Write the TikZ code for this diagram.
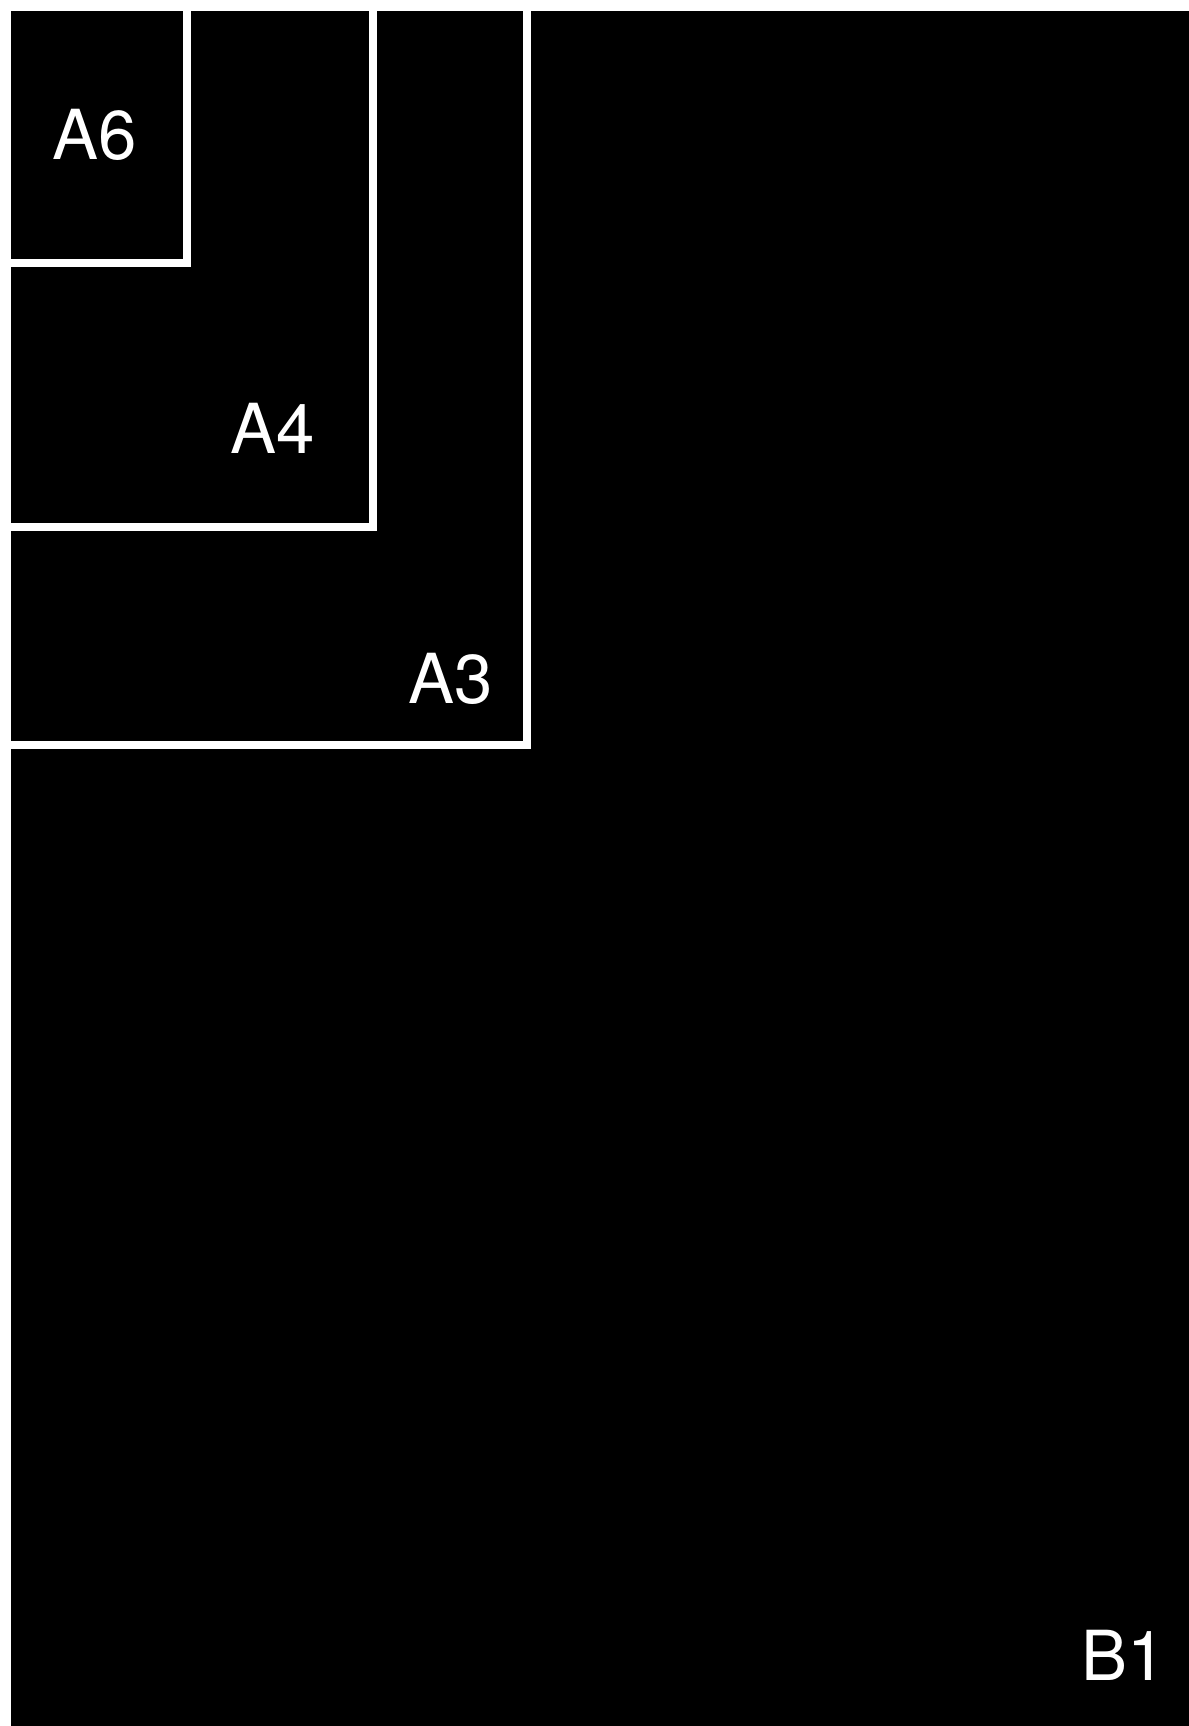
\documentclass[tikz,border=0pt]{standalone}
\usepackage{fontspec}
\setmainfont{TeX Gyre Heros}
\tikzset{
  sheet/.style={fill=black, draw=white, line width=4pt},
  size label/.style={text=white, font=\fontsize{34.5}{40}\selectfont, inner sep=0pt}
}

\begin{document}
\begin{tikzpicture}[x=0.5pt, y=-0.5pt]
\useasboundingbox[fill=white] (0,0) rectangle (1189,1726);

%%%%%%%%%%%%%%%%%%%%%%%%%%%%%%%%%%%%%%%%%%%%%%%%%%%%%%%%%%%%%% B1
\fill[black] (11,11) rectangle (1189,1726);

%%%%%%%%%%%%%%%%%%%%%%%%%%%%%%%%%%%%%%%%%%%%%%%%%%%%%%%%%%%%%% A3, A4, A6
\coordinate (O) at (7,7);
\draw[sheet] (O) rectangle (527,745);
\draw[sheet] (O) rectangle (373,527);
\draw[sheet] (O) rectangle (187,263);

%%%%%%%%%%%%%%%%%%%%%%%%%%%%%%%%%%%%%%%%%%%%%%%%%%%%%%%%%%%%%% labels
\node[size label] (a6) at (95,135) {A6};
\node[size label] (a4) at (273,428) {A4};
\node[size label] (a3) at (451,679) {A3};
\node[size label] (b1) at (1124,1655) {B1};

\end{tikzpicture}
\end{document}
